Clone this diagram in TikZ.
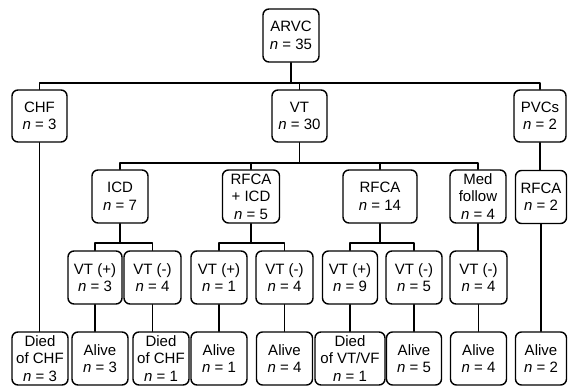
\documentclass[tikz,border=0pt]{standalone}
\usepackage{fontspec}
\setmainfont{Liberation Sans}

\begin{document}
\begin{tikzpicture}[x=1pt,y=-1pt,line cap=round,line join=round,line width=1.4pt,
  box/.style={draw,rounded corners=6pt,align=center,inner sep=0pt,minimum height=53pt,
    font=\fontsize{15}{17.5}\selectfont}]
  \def\ncount#1{\textit{n} = #1}
  \useasboundingbox (0,0) rectangle (568,387);
  % levels
  \node[box,minimum width=56pt] (arvc) at (291,35.5) {ARVC\\\ncount{35}};
  \node[box,minimum width=55pt,minimum height=52pt] (chf) at (39.5,116) {CHF\\\ncount{3}};
  \node[box,minimum width=55pt,minimum height=52pt] (vt) at (299.5,116) {VT\\\ncount{30}};
  \node[box,minimum width=52pt,minimum height=52pt] (pvcs) at (540,116) {PVCs\\\ncount{2}};
  \node[box,minimum width=56pt] (icd) at (120,196.5) {ICD\\\ncount{7}};
  \node[box,minimum width=57pt] (rfcaicd) at (251,196.5) {RFCA\\+ ICD\\\ncount{5}};
  \node[box,minimum width=74pt] (rfca) at (380,196.5) {RFCA\\\ncount{14}};
  \node[box,minimum width=56pt] (med) at (478,196.5) {Med\\follow\\\ncount{4}};
  \node[box,minimum width=51pt] (rfcap) at (541,197) {RFCA\\\ncount{2}};
  \node[box,minimum width=54pt] (vtp1) at (95,277.5) {VT (+)\\\ncount{3}};
  \node[box,minimum width=57pt] (vtm1) at (152.5,277.5) {VT (-)\\\ncount{4}};
  \node[box,minimum width=56pt] (vtp2) at (219,277.5) {VT (+)\\\ncount{1}};
  \node[box,minimum width=57pt] (vtm2) at (284.5,277.5) {VT (-)\\\ncount{4}};
  \node[box,minimum width=55pt] (vtp3) at (350,277.5) {VT (+)\\\ncount{9}};
  \node[box,minimum width=56pt] (vtm3) at (414,277.5) {VT (-)\\\ncount{5}};
  \node[box,minimum width=57pt] (vtm4) at (478.5,277.5) {VT (-)\\\ncount{4}};
  \node[box,minimum width=56pt] (died1) at (40,358.5) {Died\\of CHF\\\ncount{3}};
  \node[box,minimum width=56pt] (alive1) at (100,358.5) {Alive\\\ncount{3}};
  \node[box,minimum width=56pt] (died2) at (161,358.5) {Died\\of CHF\\\ncount{1}};
  \node[box,minimum width=56pt] (alive2) at (219,358.5) {Alive\\\ncount{1}};
  \node[box,minimum width=56pt] (alive3) at (284.5,358.5) {Alive\\\ncount{4}};
  \node[box,minimum width=70pt] (died3) at (350,358.5) {Died\\of VT/VF\\\ncount{1}};
  \node[box,minimum width=55pt] (alive4) at (414,358.5) {Alive\\\ncount{5}};
  \node[box,minimum width=56pt] (alive5) at (478.5,358.5) {Alive\\\ncount{4}};
  \node[box,minimum width=51pt] (alive6) at (541,358.5) {Alive\\\ncount{2}};
  % buses
  \coordinate (bus1) at (0,83);
  \coordinate (bus2) at (0,163);
  \coordinate (bus3) at (0,243);
  \draw (arvc.south) -- (arvc.south |- bus1);
  \draw (chf.north) |- (pvcs.north |- bus1) -- (pvcs.north);
  \draw (vt.north) -- (vt.north |- bus1);
  \draw (vt.south) -- (vt.south |- bus2);
  \draw (icd.north) |- (med.north |- bus2) -- (med.north);
  \draw (rfcaicd.north) -- (rfcaicd.north |- bus2);
  \draw (rfca.north) -- (rfca.north |- bus2);
  \draw (icd.south) -- (icd.south |- bus3);
  \draw (vtp1.north) |- (vtm1.north |- bus3) -- (vtm1.north);
  \draw (rfcaicd.south) -- (rfcaicd.south |- bus3);
  \draw (vtp2.north) |- (vtm2.north |- bus3) -- (vtm2.north);
  \draw (rfca.south) -- (rfca.south |- bus3);
  \draw (vtp3.north) |- (vtm3.north |- bus3) -- (vtm3.north);
  % stems
  \draw (med.south) -- (med.south |- vtm4.north);
  \draw (pvcs.south) -- (pvcs.south |- rfcap.north);
  \draw (rfcap.south) -- (alive6.north);
  \draw (chf.south) -- (chf.south |- died1.north);
  \draw (vtp1.south) -- (vtp1.south |- alive1.north);
  \draw (vtm1.south) -- (vtm1.south |- died2.north);
  \draw (vtp2.south) -- (alive2.north);
  \draw (vtm2.south) -- (alive3.north);
  \draw (vtp3.south) -- (died3.north);
  \draw (vtm3.south) -- (alive4.north);
  \draw (vtm4.south) -- (alive5.north);
\end{tikzpicture}
\end{document}
